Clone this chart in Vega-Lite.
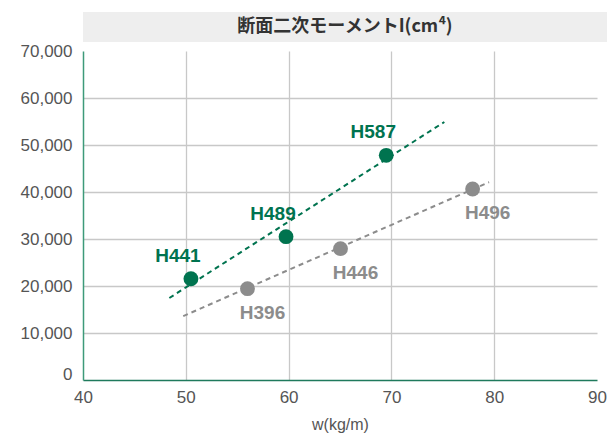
{
  "$schema": "https://vega.github.io/schema/vega-lite/v6.json",
  "padding": {"left": 20, "top": 12, "right": 0, "bottom": 5},
  "spacing": 0,
  "config": {"view": {"stroke": null}, "font": "Liberation Sans", "concat": {"spacing": 0}},
  "datasets": {
    "points": [
      {"w": 50.5, "I": 21550, "name": "H441", "series": "new"},
      {"w": 59.75, "I": 30490, "name": "H489", "series": "new"},
      {"w": 69.5, "I": 47810, "name": "H587", "series": "new"},
      {"w": 56.0, "I": 19430, "name": "H396", "series": "old"},
      {"w": 65.05, "I": 27940, "name": "H446", "series": "old"},
      {"w": 77.9, "I": 40640, "name": "H496", "series": "old"}
    ],
    "trends": [
      {"w": 48.4, "I": 17450, "series": "new"},
      {"w": 75.15, "I": 54900, "series": "new"},
      {"w": 49.75, "I": 13600, "series": "old"},
      {"w": 79.5, "I": 42100, "series": "old"}
    ]
  },
  "vconcat": [
    {
      "width": 524,
      "height": 30,
      "view": {"fill": "#eeeeee", "stroke": null},
      "data": {"values": [{"title": "断面二次モーメントI(cm⁴)"}]},
      "mark": {"type": "text", "font": "Noto Sans CJK JP", "fontWeight": "bold", "fontSize": 18, "color": "#333333"},
      "encoding": {"text": {"field": "title"}}
    },
    {
      "width": 514,
      "height": 329,
      "encoding": {
        "x": {
          "field": "w", "type": "quantitative",
          "scale": {"domain": [40, 90], "nice": false, "zero": false},
          "axis": {
            "values": [40, 50, 60, 70, 80, 90],
            "title": "w(kg/m)",
            "grid": true,
            "gridColor": "#c8c8c8",
            "gridWidth": 1.3,
            "gridOpacity": {"condition": {"test": "datum.value == 40 || datum.value == 90", "value": 0}, "value": 1},
            "ticks": false,
            "domainColor": "#1f7a5c",
            "domainWidth": 1.5,
            "labelFlush": false,
            "labelFontSize": 17,
            "labelColor": "#555555",
            "labelPadding": 9,
            "titleFontSize": 16,
            "titleFontWeight": "normal",
            "titleColor": "#555555",
            "titlePadding": 11
          }
        },
        "y": {
          "field": "I", "type": "quantitative",
          "scale": {"domain": [0, 70000], "nice": false},
          "axis": {
            "values": [0, 10000, 20000, 30000, 40000, 50000, 60000, 70000],
            "format": ",d",
            "title": null,
            "grid": true,
            "gridColor": "#c8c8c8",
            "gridWidth": 1.3,
            "gridOpacity": {"condition": {"test": "datum.value == 0 || datum.value == 70000", "value": 0}, "value": 1},
            "ticks": false,
            "domainColor": "#3d9a7a",
            "domainWidth": 1.5,
            "labelFlush": false,
            "labelFontSize": 17,
            "labelColor": "#555555",
            "labelPadding": 11,
            "labelOffset": {"condition": {"test": "datum.value == 0", "value": -6}, "value": 0}
          }
        },
        "color": {
          "field": "series", "type": "nominal",
          "scale": {"domain": ["new", "old"], "range": ["#00734f", "#8c8c8c"]},
          "legend": null
        }
      },
      "layer": [
        {
          "data": {"name": "trends"},
          "mark": {"type": "line", "strokeDash": [5, 4], "strokeWidth": 2},
          "encoding": {"detail": {"field": "series"}}
        },
        {
          "data": {"name": "points"},
          "mark": {"type": "circle", "size": 220, "opacity": 1}
        },
        {
          "data": {"name": "points"},
          "transform": [{"filter": "datum.series == 'new'"}],
          "mark": {"type": "text", "fontWeight": "bold", "fontSize": 19, "dx": -13, "dy": -23},
          "encoding": {"text": {"field": "name"}}
        },
        {
          "data": {"name": "points"},
          "transform": [{"filter": "datum.series == 'old'"}],
          "mark": {"type": "text", "fontWeight": "bold", "fontSize": 19, "dx": 15, "dy": 24},
          "encoding": {"text": {"field": "name"}}
        }
      ]
    }
  ]
}
